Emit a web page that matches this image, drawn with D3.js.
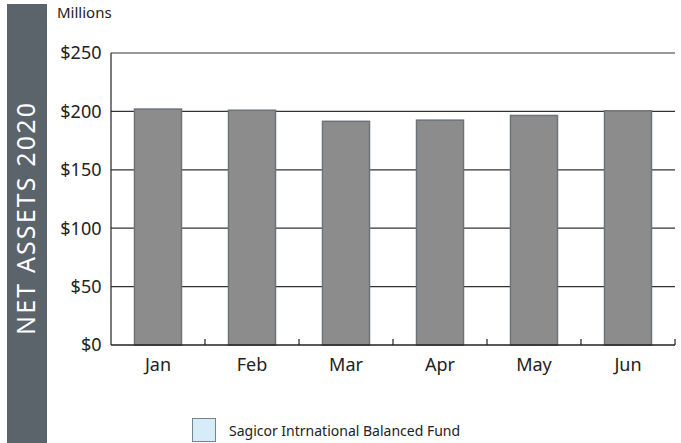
<!DOCTYPE html>
<html>
<head>
<meta charset="utf-8">
<script src="https://cdn.jsdelivr.net/npm/d3@7"></script>
<style>
  body { margin: 0; background: #fff; }
  svg { display: block; font-family: "Noto Sans", sans-serif; }
</style>
</head>
<body>
<svg id="chart" width="681" height="443"></svg>
<script>
var months = ['Jan', 'Feb', 'Mar', 'Apr', 'May', 'Jun'];
var netAssets = [202, 201, 191.5, 192.5, 196.5, 200.5];
var yTicks = [0, 50, 100, 150, 200, 250];
var seriesName = 'Sagicor Intrnational Balanced Fund';
var sideTitle = 'NET ASSETS 2020';
var unitLabel = 'Millions';

var svg = d3.select('#chart');
var margin = {left: 111, right: 6, top: 53, bottom: 98};
var width = 681 - margin.left - margin.right;
var height = 443 - margin.top - margin.bottom;

// side banner
svg.append('rect')
    .attr('x', 7).attr('y', 4)
    .attr('width', 40).attr('height', 439)
    .attr('fill', '#5b636b');
svg.append('text')
    .attr('transform', 'translate(35,219) rotate(-90)')
    .attr('text-anchor', 'middle')
    .attr('fill', '#fff')
    .attr('textLength', 232)
    .attr('lengthAdjust', 'spacing')
    .style('font-size', '25px')
    .text(sideTitle);

svg.append('text')
    .attr('x', 57).attr('y', 18)
    .attr('fill', '#222')
    .style('font-size', '15px')
    .text(unitLabel);

var g = svg.append('g').attr('transform', 'translate(' + margin.left + ',' + margin.top + ')');

var x = d3.scaleBand().domain(months).range([0, width]).paddingInner(0.5).paddingOuter(0.25);
var y = d3.scaleLinear().domain([0, 250]).range([height, 0]);

// gridlines
g.selectAll('.grid').data(yTicks.slice(1)).enter().append('line')
    .attr('x1', 0).attr('x2', width)
    .attr('y1', function(d) { return y(d); })
    .attr('y2', function(d) { return y(d); })
    .attr('stroke', '#333').attr('stroke-width', 1.2);

// y labels
g.selectAll('.ylab').data(yTicks).enter().append('text')
    .attr('x', -9.5)
    .attr('y', function(d) { return y(d); })
    .attr('dy', '0.36em')
    .attr('text-anchor', 'end')
    .attr('fill', '#222')
    .style('font-size', '18px')
    .text(function(d) { return '$' + d; });

// bars
g.selectAll('.bar').data(netAssets).enter().append('rect')
    .attr('x', function(d, i) { return x(months[i]); })
    .attr('y', function(d) { return y(d); })
    .attr('width', x.bandwidth())
    .attr('height', function(d) { return height - y(d); })
    .attr('fill', '#8c8c8c')
    .attr('stroke', '#6c737b')
    .attr('stroke-width', 1.5);

// axes lines
g.append('line').attr('x1', 0).attr('x2', 0).attr('y1', 0).attr('y2', height)
    .attr('stroke', '#222').attr('stroke-width', 1.2);
g.append('line').attr('x1', 0).attr('x2', width).attr('y1', height).attr('y2', height)
    .attr('stroke', '#222').attr('stroke-width', 1.5);

// x tick marks at band boundaries
var step = x.step();
g.selectAll('.xtick').data(months).enter().append('line')
    .attr('x1', function(d) { return x(d) - x.bandwidth() / 2 + step; })
    .attr('x2', function(d) { return x(d) - x.bandwidth() / 2 + step; })
    .attr('y1', height).attr('y2', height - 6)
    .attr('stroke', '#222').attr('stroke-width', 1.2);

g.selectAll('.xlab').data(months).enter().append('text')
    .attr('x', function(d) { return x(d) + x.bandwidth() / 2; })
    .attr('y', height + 26)
    .attr('text-anchor', 'middle')
    .attr('fill', '#222')
    .style('font-size', '18px')
    .text(function(d) { return d; });

// legend
svg.append('rect')
    .attr('x', 192.5).attr('y', 418.5)
    .attr('width', 23).attr('height', 23)
    .attr('fill', '#d6ecf9')
    .attr('stroke', '#7a8289').attr('stroke-width', 1);
svg.append('text')
    .attr('x', 229).attr('y', 436)
    .attr('fill', '#222')
    .style('font-size', '14px')
    .text(seriesName);
</script>
</body>
</html>
